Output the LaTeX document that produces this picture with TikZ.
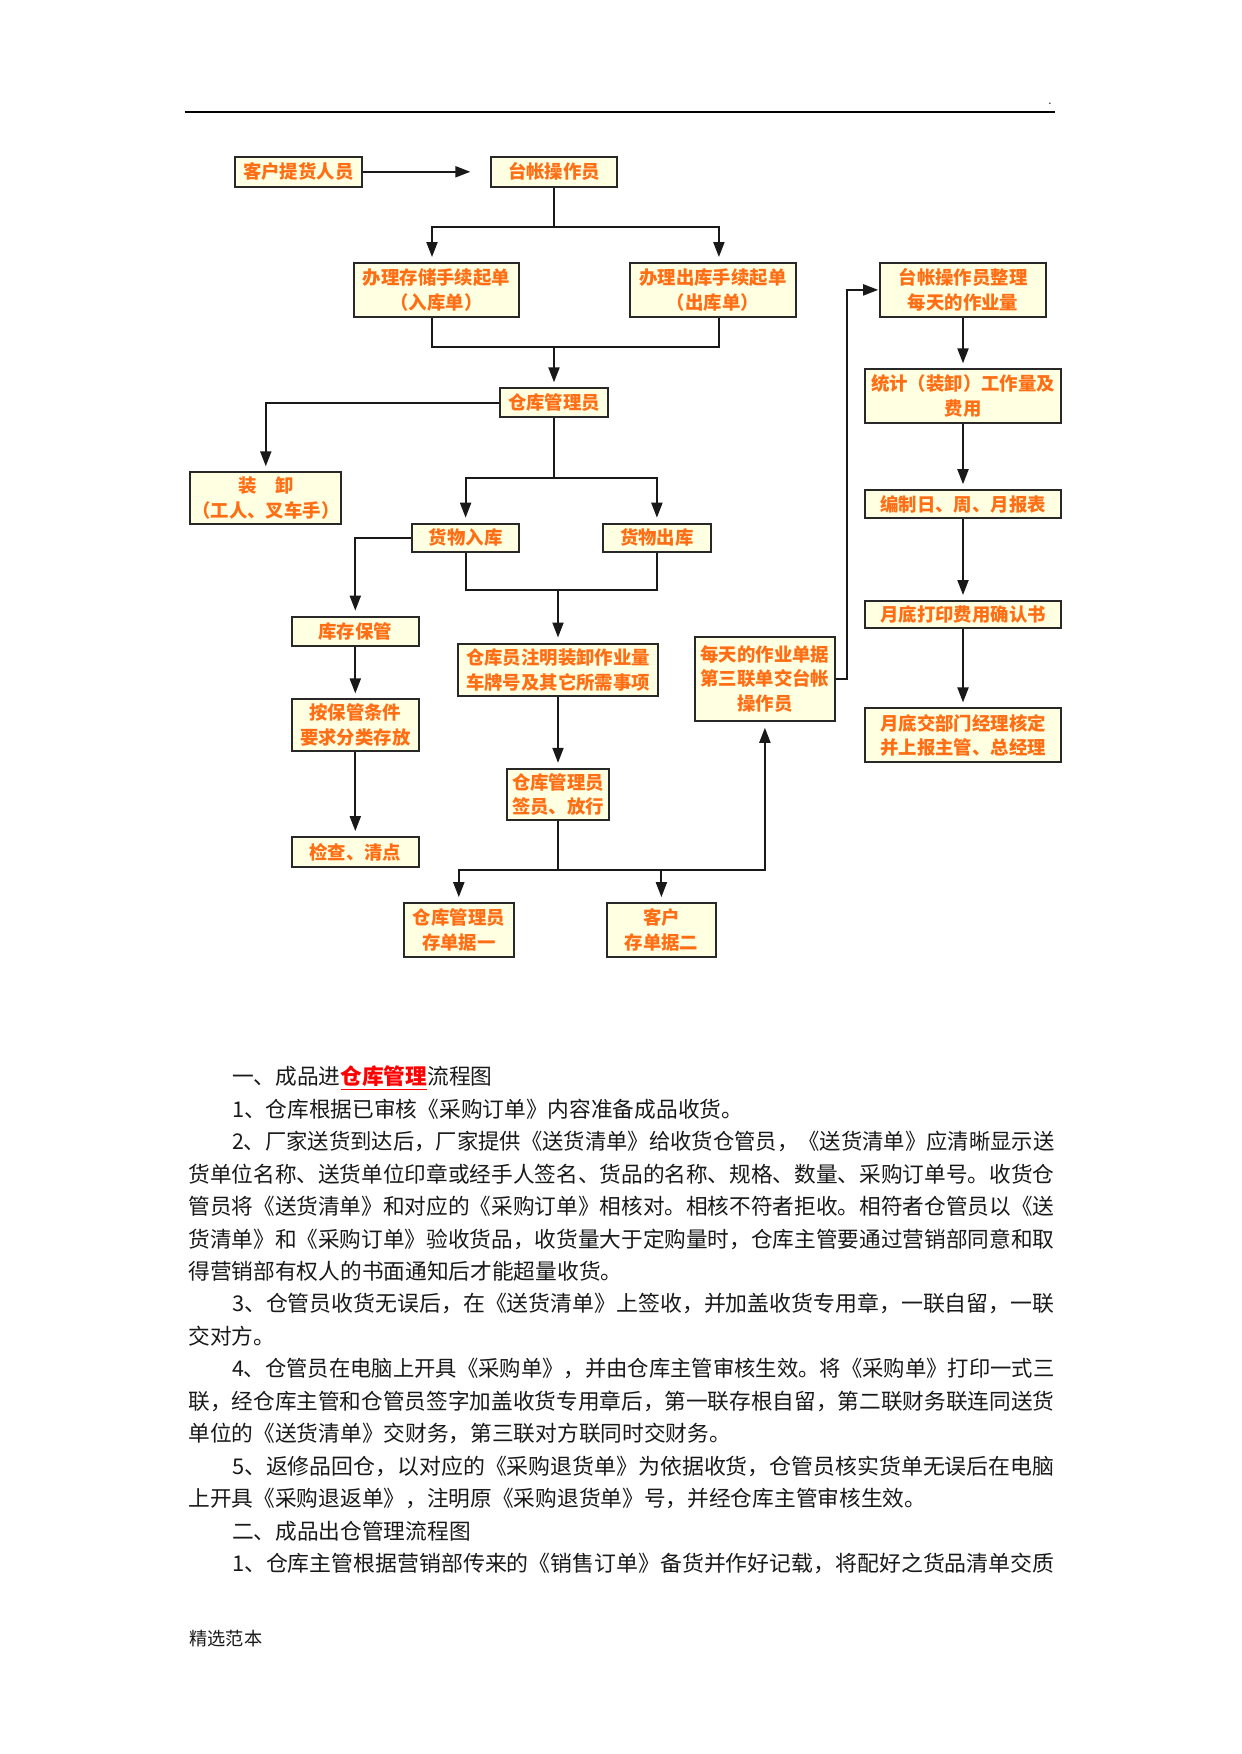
\documentclass[tikz,border=0pt]{standalone}
\usepackage{fontspec}
\usepackage{graphicx}
\usetikzlibrary{arrows.meta}
\newfontfamily\cjk{Noto Sans CJK SC}
\definecolor{boxfill}{RGB}{255,255,225}
\definecolor{boxtext}{RGB}{255,110,20}
\definecolor{boxline}{RGB}{40,40,40}
\definecolor{redlink}{RGB}{255,0,0}
\newcommand\FL[2]{\resizebox{#1}{\height}{#2}}
\begin{document}
\begin{tikzpicture}[x=0.5pt,y=-0.5pt,
  box/.style={draw=boxline, line width=1pt, fill=boxfill, text=boxtext,
    font=\cjk\bfseries\fontsize{9.2pt}{12.3pt}\selectfont, align=center, inner sep=0pt},
  bx/.style 2 args={box, minimum width=#1*0.5pt, minimum height=#2*0.5pt},
  ln/.style={draw=black!90, line width=1pt},
  arr/.style={ln, -{Triangle[length=7.5pt,width=5.5pt]}, shorten >=2.5pt},
  body/.style={font=\cjk\fontsize{10.85pt}{13pt}\selectfont, anchor=base west, inner sep=0pt, text=black!90},
]
\useasboundingbox (0,0) rectangle (1241,1754);

% header
\draw[line width=1.1pt] (184.6,112) -- (1055.3,112);
\node[font=\fontsize{6pt}{6pt}\selectfont, inner sep=0pt] (dot) at (1050,104) {.};

% boxes
\node[bx={126.5}{30.2}] (b1) at (298.3,171.8) {客户提货人员};
\node[bx={125.3}{30.2}] (b2) at (554,171.8) {台帐操作员};
\node[bx={165.7}{53.7}] (b3) at (436.5,289.9) {办理存储手续起单\\（入库单）};
\node[bx={165.7}{53.7}] (b4) at (712.9,289.9) {办理出库手续起单\\（出库单）};
\node[bx={107.5}{29.1}] (b5) at (554,402.9) {仓库管理员};
\node[bx={151.1}{51.4}] (b6) at (265.8,498) {装　卸\\（工人、叉车手）};
\node[bx={107.5}{28}] (b7) at (465.6,537.7) {货物入库};
\node[bx={107.4}{28}] (b8) at (656.9,537.7) {货物出库};
\node[bx={126.4}{29.1}] (b9) at (355.3,631.2) {库存保管};
\node[bx={200.3}{52.6}] (b10) at (558,669.8) {仓库员注明装卸作业量\\车牌号及其它所需事项};
\node[bx={126.4}{51.5}] (b11) at (355.3,725.2) {按保管条件\\要求分类存放};
\node[bx={126.4}{30.2}] (b12) at (355.3,852.2) {检查、清点};
\node[bx={102.9}{51.5}] (b13) at (558,794.6) {仓库管理员\\签员、放行};
\node[bx={109.7}{53.7}] (b14) at (458.8,930) {仓库管理员\\存单据一};
\node[bx={109.6}{53.7}] (b15) at (661.4,930) {客户\\存单据二};
\node[bx={139.8}{83.9}] (b16) at (764.9,678.8) {每天的作业单据\\第三联单交台帐\\操作员};
\node[bx={165.6}{53.7}] (b17) at (963,289.9) {台帐操作员整理\\每天的作业量};
\node[bx={195.9}{53.7}] (b18) at (963,396.2) {统计（装卸）工作量及\\费用};
\node[bx={195.9}{27.9}] (b19) at (963,504.2) {编制日、周、月报表};
\node[bx={195.9}{26.8}] (b20) at (963,614.4) {月底打印费用确认书};
\node[bx={195.9}{53.7}] (b21) at (963,735.3) {月底交部门经理核定\\并上报主管、总经理};

% junctions
\coordinate (j1) at (554,227.2);
\coordinate (j2) at (554,346.9);
\coordinate (j3) at (554,477.9);
\coordinate (j4) at (558,589.8);
\coordinate (j5) at (558,869.8);

% connectors
\draw[arr, shorten >=10pt] (b1.east) -- (b2.west);
\draw[ln] (b2.south) -- (j1);
\draw[arr] (j1) -| ([xshift=-2.25pt]b3.north);
\draw[arr] (j1) -| ([xshift=3pt]b4.north);
\draw[ln] ([xshift=-2.25pt]b3.south) |- (j2);
\draw[ln] ([xshift=3pt]b4.south) |- (j2);
\draw[arr] (j2) -- (b5.north);
\draw[arr] (b5.west) -| (b6.north);
\draw[ln] (b5.south) -- (j3);
\draw[arr] (j3) -| (b7.north);
\draw[arr] (j3) -| (b8.north);
\draw[arr] (b7.west) -| (b9.north);
\draw[ln] (b7.south) |- (j4);
\draw[ln] (b8.south) |- (j4);
\draw[arr] (j4) -- (b10.north);
\draw[arr] (b9.south) -- (b11.north);
\draw[arr] (b11.south) -- (b12.north);
\draw[arr] (b10.south) -- (b13.north);
\draw[ln] (b13.south) -- (j5);
\draw[arr] (j5) -| (b14.north);
\draw[arr] (j5) -| (b15.north);
\draw[arr, shorten >=3pt] (j5) -| (b16.south);
\draw[arr, shorten >=0.5pt] (b16.east) -- ++(11,0) |- (b17.west);
\draw[arr] (b17.south) -- (b18.north);
\draw[arr] (b18.south) -- (b19.north);
\draw[arr] (b19.south) -- (b20.north);
\draw[arr] (b20.south) -- (b21.north);

% body text
\node[body] (t1) at (231.6,1084.8) {一、成品进{\color{redlink}\bfseries\underline{仓库管理}}流程图};
\node[body] (t2) at (231.6,1117.25) {1、仓库根据已审核《采购订单》内容准备成品收货。};
\node[body] (t3) at (231.6,1149.7) {\FL{411.2pt}{2、厂家送货到达后，厂家提供《送货清单》给收货仓管员，《送货清单》应清晰显示送}};
\node[body] (t4) at (188,1182.15) {\FL{433pt}{货单位名称、送货单位印章或经手人签名、货品的名称、规格、数量、采购订单号。收货仓}};
\node[body] (t5) at (188,1214.6) {\FL{433pt}{管员将《送货清单》和对应的《采购订单》相核对。相核不符者拒收。相符者仓管员以《送}};
\node[body] (t6) at (188,1247.05) {\FL{433pt}{货清单》和《采购订单》验收货品，收货量大于定购量时，仓库主管要通过营销部同意和取}};
\node[body] (t7) at (188,1279.5) {得营销部有权人的书面通知后才能超量收货。};
\node[body] (t8) at (231.6,1311.95) {\FL{411.2pt}{3、仓管员收货无误后，在《送货清单》上签收，并加盖收货专用章，一联自留，一联}};
\node[body] (t9) at (188,1344.4) {交对方。};
\node[body] (t10) at (231.6,1376.85) {\FL{411.2pt}{4、仓管员在电脑上开具《采购单》，并由仓库主管审核生效。将《采购单》打印一式三}};
\node[body] (t11) at (188,1409.3) {\FL{433pt}{联，经仓库主管和仓管员签字加盖收货专用章后，第一联存根自留，第二联财务联连同送货}};
\node[body] (t12) at (188,1441.75) {单位的《送货清单》交财务，第三联对方联同时交财务。};
\node[body] (t13) at (231.6,1474.2) {\FL{411.2pt}{5、返修品回仓，以对应的《采购退货单》为依据收货，仓管员核实货单无误后在电脑}};
\node[body] (t14) at (188,1506.65) {上开具《采购退返单》，注明原《采购退货单》号，并经仓库主管审核生效。};
\node[body] (t15) at (231.6,1539.1) {二、成品出仓管理流程图};
\node[body] (t16) at (231.6,1571.55) {\FL{411.2pt}{1、仓库主管根据营销部传来的《销售订单》备货并作好记载，将配好之货品清单交质}};

% footer
\node[body, font=\cjk\fontsize{9.1pt}{11pt}\selectfont] (foot) at (189,1645) {精选范本};
\end{tikzpicture}
\end{document}
